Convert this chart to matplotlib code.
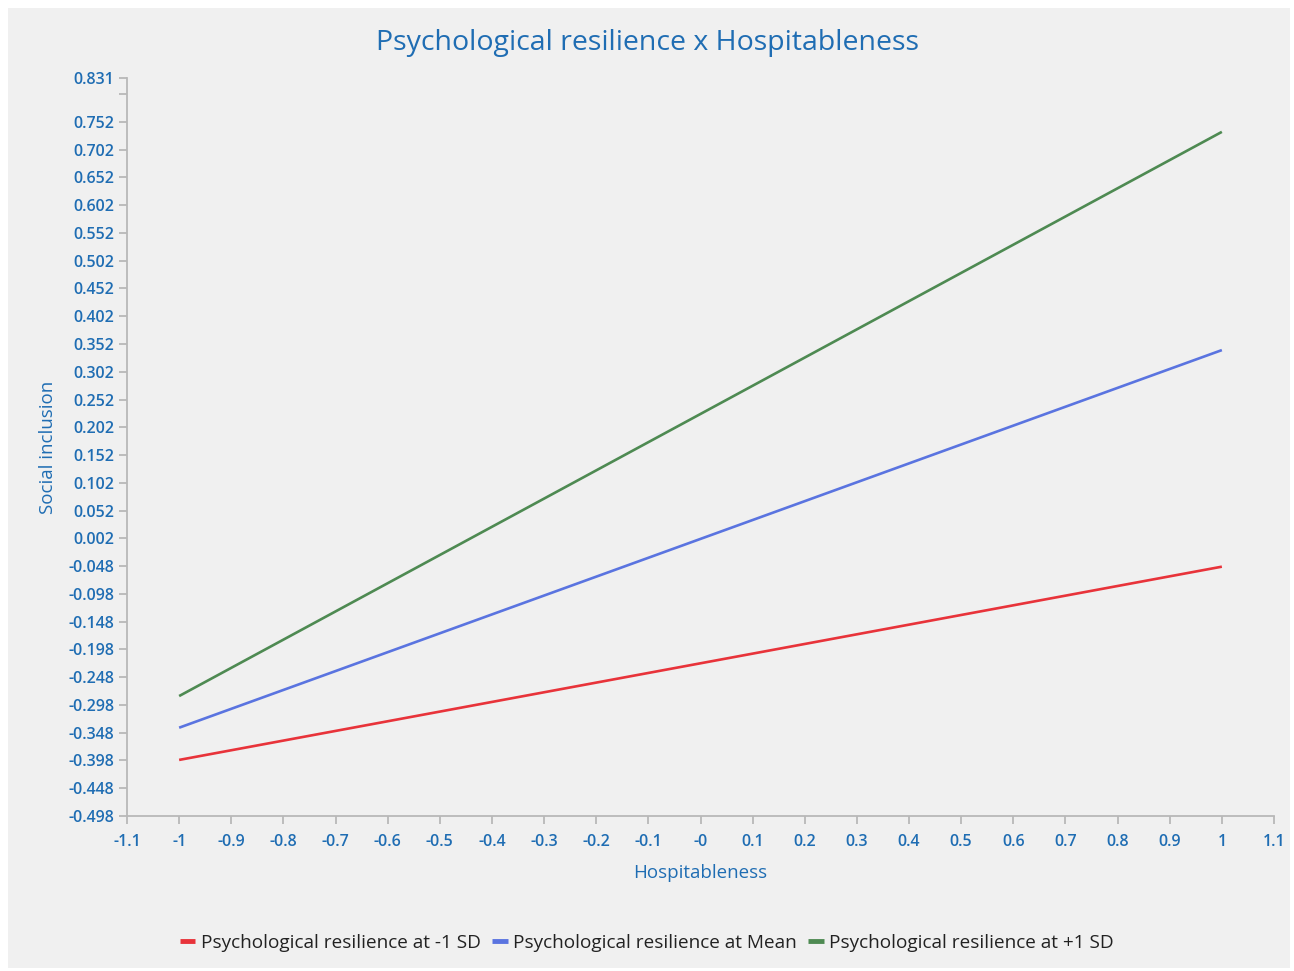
import numpy as np
import matplotlib.pyplot as plt
from matplotlib.patches import Rectangle

# data
x_vals = [-1, 1]
low_sd = [-0.397, -0.049]
mean_sd = [-0.339, 0.341]
high_sd = [-0.282, 0.734]
series_names = ["Psychological resilience at -1 SD",
                "Psychological resilience at Mean",
                "Psychological resilience at +1 SD"]
series_colors = ["#e8333a", "#5a74e0", "#4e8a52"]

x_ticks = [-1.1, -1, -0.9, -0.8, -0.7, -0.6, -0.5, -0.4, -0.3, -0.2, -0.1, 0,
           0.1, 0.2, 0.3, 0.4, 0.5, 0.6, 0.7, 0.8, 0.9, 1, 1.1]
x_labels = ["-1.1", "-1", "-0.9", "-0.8", "-0.7", "-0.6", "-0.5", "-0.4", "-0.3",
            "-0.2", "-0.1", "-0", "0.1", "0.2", "0.3", "0.4", "0.5", "0.6", "0.7",
            "0.8", "0.9", "1", "1.1"]
y_min, y_max = -0.498, 0.831

plt.rcParams['font.family'] = ['Open Sans', 'DejaVu Sans']
blue = "#1f6db3"
grey = "#b8b8b8"
bg = "#f0f0f0"

fig = plt.figure(figsize=(12.94, 9.71), dpi=100, facecolor="white")
fig.patches.append(Rectangle((8/1294, 3/971), 1282/1294, 960/971, transform=fig.transFigure,
                             facecolor=bg, edgecolor="none", zorder=-10))
ax = fig.add_axes([127/1294, 1 - 816/971, 1147/1294, 738/971])
ax.set_facecolor(bg)

for ys, name, c in zip([low_sd, mean_sd, high_sd], series_names, series_colors):
    ax.plot(x_vals, ys, color=c, lw=1.9, label=name, solid_capstyle="butt")

ax.set_xlim(-1.1, 1.1)
ax.set_ylim(y_min, y_max)
ax.set_xticks(x_ticks)
ax.set_xticklabels(x_labels)

yt = [round(-0.498 + 0.05 * i, 3) for i in range(27)] + [0.831]
ylabs = ["%.3f" % v for v in yt]
ylabs[-2] = ""  # 0.802 hidden behind 0.831
ax.set_yticks(yt)
ax.set_yticklabels(ylabs)

for s in ["top", "right"]:
    ax.spines[s].set_visible(False)
for s in ["left", "bottom"]:
    ax.spines[s].set_color(grey)
    ax.spines[s].set_linewidth(1.3)
ax.tick_params(colors=grey, labelcolor=blue, labelsize=11.5, length=6, width=1.3)
ax.tick_params(axis="x", pad=7)
ax.tick_params(axis="y", pad=3)
for lab in ax.get_xticklabels() + ax.get_yticklabels():
    lab.set_fontweight("semibold")

ax.set_xlabel("Hospitableness", color=blue, fontsize=13.5, labelpad=10)
ax.set_ylabel("Social inclusion", color=blue, fontsize=13.5, labelpad=8)
fig.text(0.5, 1 - 43/971, "Psychological resilience x Hospitableness", color=blue,
         fontsize=20.5, ha="center", va="center")

leg = fig.legend(loc="center", bbox_to_anchor=(0.5, 1 - 943/971), ncol=3, frameon=False,
                 fontsize=13.7, handlelength=0.8, handletextpad=0.3, columnspacing=0.6,
                 labelcolor="#222222")
for h in leg.get_lines():
    h.set_linewidth(3.5)

fig.savefig("out.png", dpi=100, facecolor="white")
